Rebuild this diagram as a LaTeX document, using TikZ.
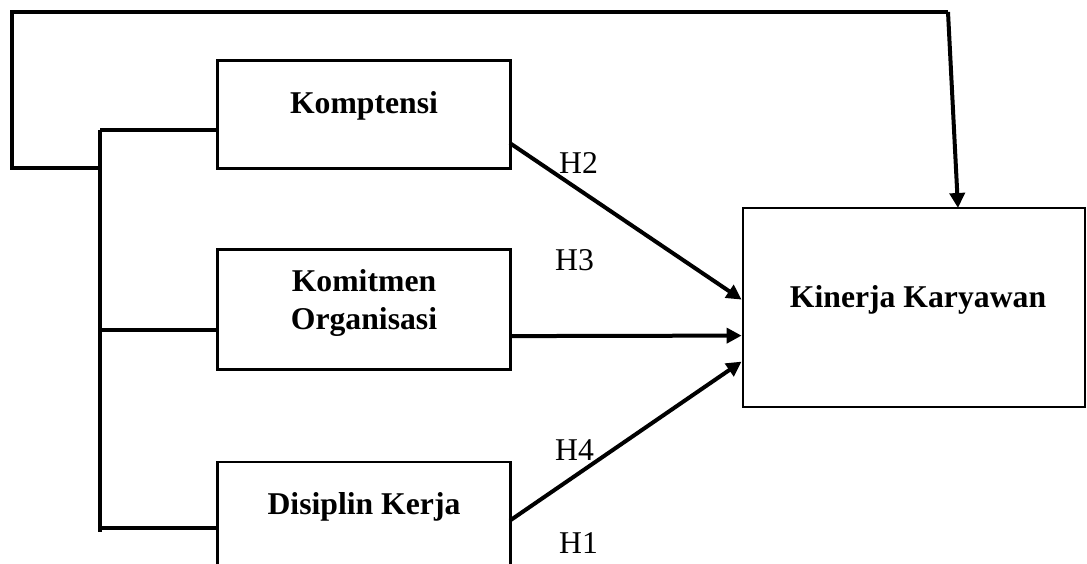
\documentclass[tikz,border=0pt]{standalone}
\usepackage{fontspec}
\setmainfont{Liberation Serif}
\usetikzlibrary{arrows.meta,calc}
\tikzset{
  box/.style={draw=black,line width=2.8pt,rectangle,inner sep=0pt},
  boxtext/.style={font=\fontsize{31.7}{37.5}\selectfont\bfseries,inner sep=0pt,align=center},
  hlab/.style={font=\fontsize{31.7}{33}\selectfont,inner sep=0pt,anchor=base west},
  conn/.style={line width=3.4pt},
  loopline/.style={line width=4pt,line join=miter},
  arr/.style={line width=4pt,-{Triangle[length=15pt,width=15pt]}}
}
\begin{document}
\begin{tikzpicture}[x=1pt,y=-1pt]
\useasboundingbox (0,0) rectangle (1087,564);
\clip (0,0) rectangle (1087,564);
% boxes
\node[box,minimum width=293pt,minimum height=108pt] (komp) at (364,114.5) {};
\node[box,minimum width=293pt,minimum height=120pt] (komi) at (364,309.5) {};
\node[box,minimum width=293pt,minimum height=130pt] (disi) at (364,527) {};
\node[box,minimum width=342pt,minimum height=199pt] (kin) at (914,307.5) {};
% texts
\node[boxtext,anchor=base] (kompt) at (364,114) {Komptensi};
\node[boxtext] (komit) at (364,303) {Komitmen\\Organisasi};
\node[boxtext,anchor=base] (disit) at (364,514) {Disiplin Kerja};
\node[boxtext,anchor=base] (kint) at (918,307) {Kinerja Karyawan};
% labels
\node[hlab] (h2) at (559,174) {H2};
\node[hlab] (h3) at (555,270) {H3};
\node[hlab] (h4) at (555,460) {H4};
\node[hlab] (h1) at (559,553) {H1};
% trunk coordinates
\coordinate (t1) at (100,130);
\coordinate (t2) at (100,330);
\coordinate (t3) at (100,528);
\coordinate (tb) at (100,532);
\coordinate (tl) at (100,168);
\coordinate (lc1) at (12,168);
\coordinate (lc2) at (12,12);
\coordinate (lc3) at (948,12);
\coordinate (kintop) at (958,208);
% trunk and branches
\draw[conn] (t1) -- (tb);
\draw[conn] (t1) -- (t1 -| komp.west);
\draw[conn] (t2) -- (t2 -| komi.west);
\draw[conn] (t3) -- (t3 -| disi.west);
% feedback loop
\draw[loopline] (tl) -- (lc1) -- (lc2) -- (lc3);
\draw[arr] (lc3) -- (kintop);
% arrows
\draw[arr] ($(komp.north east)+(-2,84)$) -- ($(kin.north west)+(0,93)$);
\draw[arr] ($(komi.north east)+(-2,88)$) -- ($(kin.north west)+(0,129)$);
\draw[arr] ($(disi.north east)+(-2,60)$) -- ($(kin.north west)+(0,155)$);
\end{tikzpicture}
\end{document}
